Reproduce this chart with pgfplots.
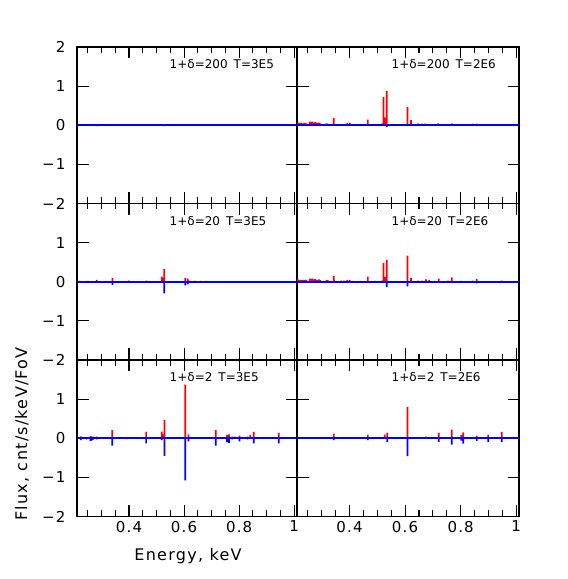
\documentclass[border=0pt]{standalone}
\usepackage{fontspec}
\setmainfont{DejaVu Sans}
\newfontfamily\tickfont[LetterSpace=8]{DejaVu Sans}
\usepackage{pgfplots}
\pgfplotsset{compat=1.18}

% one panel of the 3x2 grid
\pgfplotsset{
  panel/.style={
    scale only axis, height=156.5pt,
    xmin=0.211, xmax=1.01, ymin=-2, ymax=2,
    xtick={0.4,0.6,0.8,1},
    minor xtick={0.25,0.3,0.35,0.45,0.5,0.55,0.65,0.7,0.75,0.85,0.9,0.95},
    ytick={-2,-1,0,1,2},
    xticklabels={}, yticklabels={},
    tick align=inside,
    major tick length=11.5pt, minor tick length=6pt,
    every tick/.style={black, line width=1.1pt},
    axis line style={black, line width=1.4pt},
    tick label style={font=\tickfont\fontsize{15}{15}\selectfont},
    yticklabel style={xshift=-8pt},
    xticklabel style={yshift=-1pt},
    clip=true,
  },
  lpanel/.style={panel, width=220pt},
  rpanel/.style={panel, width=222pt},
  withy/.style={yticklabels={−2,−1,0,1,#1}},
  withx/.style={xticklabels={0.4,0.6,0.8,1}},
  emis/.style={ybar, bar width=1.7pt, bar shift=0pt, fill=red, draw=none, mark=none},
  absn/.style={ybar, bar width=1.7pt, bar shift=0pt, fill=blue, draw=none, mark=none},
  zero/.style={color=blue, line width=1.6pt, mark=none},
}
\tikzset{tag/.style={anchor=west, font=\fontsize{12}{12}\selectfont}}

\begin{document}
\begin{tikzpicture}[x=1pt,y=1pt]
\path[use as bounding box] (0,0) rectangle (568,579);

% ---- row 1: 1+d=200
\begin{axis}[lpanel, withy=2, at={(77pt,532pt)}, anchor=north west]
\addplot[emis] coordinates {(0.283,0.02)(0.35,0.01)(0.529,0.03)};
\addplot[zero] coordinates {(0.2,0)(1.02,0)};
\addplot[absn] coordinates {(0.283,-0.02)(0.529,-0.02)};
\node[tag] at (axis cs:0.535,1.55) {1+δ=200\hspace{0.5em}T=3E5};
\end{axis}

\begin{axis}[rpanel, at={(297pt,532pt)}, anchor=north west]
\addplot[emis] coordinates {(0.214,0.07)(0.220,0.06)(0.226,0.06)(0.232,0.05)(0.238,0.06)(0.245,0.05)(0.258,0.09)(0.262,0.08)(0.266,0.09)(0.270,0.07)(0.277,0.08)(0.284,0.06)(0.290,0.07)(0.296,0.05)(0.317,0.05)(0.322,0.04)(0.330,0.03)(0.336,0.03)(0.343,0.18)(0.347,0.03)(0.36,0.02)(0.37,0.03)(0.38,0.03)(0.392,0.06)(0.401,0.07)(0.41,0.03)(0.42,0.02)(0.44,0.02)(0.455,0.02)(0.466,0.145)(0.49,0.01)(0.516,0.04)(0.522,0.72)(0.525,0.2)(0.528,0.19)(0.531,0.15)(0.534,0.87)(0.54,0.03)(0.56,0.02)(0.58,0.02)(0.609,0.46)(0.621,0.13)(0.647,0.05)(0.66,0.04)(0.672,0.04)(0.685,0.02)(0.719,0.05)(0.755,0.03)(0.768,0.05)(0.843,0.04)(0.858,0.04)(0.948,0.02)};
\addplot[zero] coordinates {(0.2,0)(1.02,0)};
\addplot[absn] coordinates {(0.534,-0.05)(0.609,-0.02)};
\node[tag] at (axis cs:0.539,1.55) {1+δ=200\hspace{0.5em}T=2E6};
\end{axis}

% ---- row 2: 1+d=20
\begin{axis}[lpanel, withy={}, at={(77pt,375.5pt)}, anchor=north west]
\addplot[emis] coordinates {(0.22,0.02)(0.25,0.02)(0.283,0.05)(0.340,0.09)(0.40,0.03)(0.463,0.03)(0.519,0.13)(0.524,0.1)(0.528,0.32)(0.604,0.1)(0.613,0.08)(0.62,0.03)(0.64,0.02)(0.66,0.02)(0.68,0.02)(0.72,0.01)};
\addplot[zero] coordinates {(0.2,0)(1.02,0)};
\addplot[absn] coordinates {(0.283,-0.02)(0.340,-0.08)(0.40,-0.02)(0.463,-0.02)(0.528,-0.3)(0.604,-0.09)(0.613,-0.07)(0.62,-0.02)};
\node[tag] at (axis cs:0.535,1.55) {1+δ=20\hspace{0.5em}T=3E5};
\end{axis}

\begin{axis}[rpanel, at={(297pt,375.5pt)}, anchor=north west]
\addplot[emis] coordinates {(0.214,0.06)(0.22,0.05)(0.226,0.05)(0.232,0.05)(0.238,0.05)(0.245,0.05)(0.258,0.08)(0.262,0.07)(0.266,0.08)(0.27,0.06)(0.277,0.07)(0.284,0.05)(0.29,0.06)(0.296,0.04)(0.317,0.05)(0.322,0.04)(0.33,0.02)(0.343,0.15)(0.347,0.03)(0.37,0.03)(0.38,0.03)(0.392,0.05)(0.401,0.05)(0.41,0.02)(0.44,0.02)(0.466,0.13)(0.49,0.02)(0.516,0.03)(0.522,0.48)(0.525,0.12)(0.528,0.12)(0.531,0.1)(0.534,0.56)(0.54,0.02)(0.609,0.67)(0.621,0.1)(0.647,0.03)(0.662,0.03)(0.675,0.06)(0.687,0.05)(0.721,0.08)(0.755,0.03)(0.768,0.11)(0.80,0.02)(0.843,0.03)(0.858,0.07)(0.948,0.03)};
\addplot[zero] coordinates {(0.2,0)(1.02,0)};
\addplot[absn] coordinates {(0.343,-0.02)(0.466,-0.02)(0.534,-0.14)(0.609,-0.12)(0.721,-0.03)(0.768,-0.03)(0.858,-0.04)(0.948,-0.03)};
\node[tag] at (axis cs:0.539,1.55) {1+δ=20\hspace{0.5em}T=2E6};
\end{axis}

% ---- row 3: 1+d=2
\begin{axis}[lpanel, withy={}, withx, at={(77pt,219pt)}, anchor=north west]
\addplot[emis] coordinates {(0.225,0.05)(0.232,0.03)(0.245,0.03)(0.26,0.06)(0.264,0.05)(0.268,0.04)(0.283,0.04)(0.30,0.02)(0.339,0.21)(0.36,0.02)(0.392,0.03)(0.41,0.02)(0.44,0.02)(0.462,0.16)(0.50,0.02)(0.519,0.17)(0.524,0.1)(0.529,0.47)(0.545,0.02)(0.604,1.37)(0.616,0.1)(0.64,0.02)(0.66,0.02)(0.68,0.02)(0.70,0.02)(0.715,0.21)(0.745,0.03)(0.756,0.08)(0.763,0.1)(0.775,0.04)(0.785,0.04)(0.801,0.07)(0.81,0.03)(0.82,0.03)(0.83,0.04)(0.840,0.08)(0.853,0.16)(0.88,0.02)(0.944,0.14)(0.99,0.02)};
\addplot[zero] coordinates {(0.2,0)(1.02,0)};
\addplot[absn] coordinates {(0.225,-0.05)(0.245,-0.03)(0.26,-0.07)(0.264,-0.06)(0.268,-0.04)(0.283,-0.03)(0.339,-0.19)(0.392,-0.02)(0.462,-0.13)(0.519,-0.05)(0.529,-0.45)(0.604,-1.08)(0.616,-0.08)(0.715,-0.19)(0.756,-0.1)(0.763,-0.12)(0.775,-0.03)(0.801,-0.08)(0.83,-0.03)(0.853,-0.13)(0.944,-0.13)};
\node[tag] at (axis cs:0.535,1.55) {1+δ=2\hspace{0.5em}T=3E5};
\end{axis}

\begin{axis}[rpanel, withx, at={(297pt,219pt)}, anchor=north west]
\addplot[emis] coordinates {(0.215,0.02)(0.23,0.02)(0.25,0.02)(0.272,0.03)(0.29,0.01)(0.343,0.12)(0.36,0.02)(0.38,0.02)(0.392,0.02)(0.41,0.02)(0.44,0.01)(0.466,0.09)(0.48,0.02)(0.527,0.09)(0.536,0.14)(0.609,0.8)(0.62,0.03)(0.675,0.04)(0.685,0.03)(0.721,0.14)(0.768,0.22)(0.790,0.03)(0.802,0.08)(0.809,0.15)(0.82,0.03)(0.83,0.03)(0.845,0.03)(0.858,0.07)(0.899,0.09)(0.948,0.16)};
\addplot[zero] coordinates {(0.2,0)(1.02,0)};
\addplot[absn] coordinates {(0.343,-0.05)(0.466,-0.05)(0.536,-0.1)(0.609,-0.46)(0.721,-0.09)(0.768,-0.16)(0.802,-0.06)(0.809,-0.14)(0.858,-0.07)(0.899,-0.09)(0.948,-0.1)};
\node[tag] at (axis cs:0.539,1.55) {1+δ=2\hspace{0.5em}T=2E6};
\end{axis}

\node[rotate=90, font=\tickfont\fontsize{16}{16}\selectfont] at (22,145) {Flux, cnt/s/keV/FoV};
\node[font=\tickfont\fontsize{16}{16}\selectfont] at (188,23) {Energy, keV};
\end{tikzpicture}
\end{document}
